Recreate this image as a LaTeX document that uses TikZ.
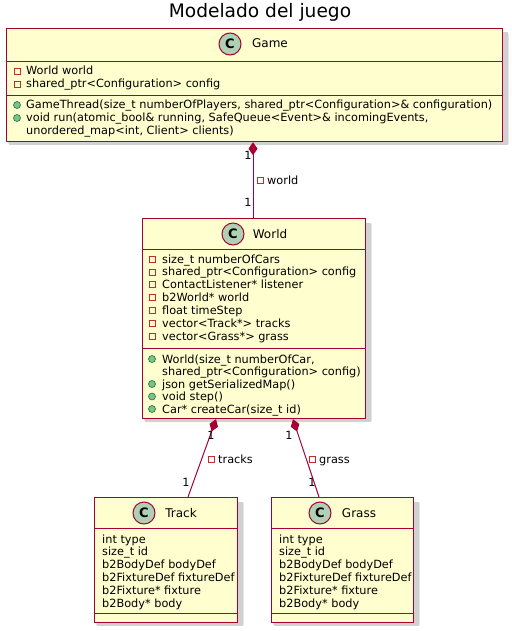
\documentclass[tikz,border=0pt]{standalone}
\usepackage{fontspec}
\setmainfont{DejaVu Sans}
\usetikzlibrary{arrows.meta,backgrounds}
\definecolor{clsfill}{HTML}{FEFECE}
\definecolor{clsline}{HTML}{A80036}
\definecolor{cfill}{HTML}{ADD1B2}
\definecolor{privc}{HTML}{C82930}
\definecolor{pubfill}{HTML}{84BE84}
\definecolor{publine}{HTML}{038048}
\tikzset{
  cls/.style={draw=clsline, fill=clsfill, line width=1.2pt, rectangle, inner sep=0pt, anchor=north west},
  sep/.style={draw=clsline, line width=0.9pt},
  cmark/.style={circle, draw=clsline, fill=cfill, line width=1pt, minimum size=22pt, inner sep=0pt, font=\fontsize{13}{13}\selectfont\bfseries},
  cname/.style={anchor=base, font=\fontsize{12}{14}\selectfont, inner sep=0pt},
  mem/.style={anchor=base west, font=\fontsize{11.3}{13}\selectfont, inner sep=0pt},
  priv/.style={rectangle, draw=privc, line width=0.8pt, minimum size=6pt, inner sep=0pt},
  pub/.style={circle, draw=publine, fill=pubfill, line width=0.6pt, minimum size=7pt, inner sep=0pt},
  mult/.style={anchor=base, font=\fontsize{11.3}{13}\selectfont, inner sep=0pt},
  conn/.style={draw=clsline, line width=1pt},
  comp/.style={conn, {Diamond[length=13pt,width=9pt,fill=clsline]}-},
}
\begin{document}
\begin{tikzpicture}[x=1pt,y=-1pt]
\useasboundingbox (0,0) rectangle (511,631);
% title
\node[anchor=base, font=\fontsize{18.6}{20}\selectfont, inner sep=0pt] (title) at (260,17.5) {Modelado del juego};

% ---------- Game ----------
\node[cls, minimum width=496pt, minimum height=113pt] (game) at (6,28) {};
\draw[sep] (6,61) -- (502,61);
\draw[sep] (6,95) -- (502,95);
\node[cmark] (gamec) at (230,44) {C};
\node[cname] (gamen) at (270,48) {Game};
\node[priv] (gp1) at (17,71) {};
\node[mem] (ga1) at (26,75) {World world};
\node[priv] (gp2) at (17,84) {};
\node[mem] (ga2) at (26,88) {shared\_ptr<Configuration> config};
\node[pub] (gm1p) at (17,105) {};
\node[mem] (gm1) at (26,109) {GameThread(size\_t numberOfPlayers, shared\_ptr<Configuration>\& configuration)};
\node[pub] (gm2p) at (17,118) {};
\node[mem] (gm2) at (26,122) {void run(atomic\_bool\& running, SafeQueue<Event>\& incomingEvents,};
\node[mem] (gm3) at (26,134.5) {unordered\_map<int, Client> clients)};

% ---------- World ----------
\node[cls, minimum width=223pt, minimum height=200pt] (world) at (142,218) {};
\draw[sep] (142,249) -- (365,249);
\draw[sep] (142,348) -- (365,348);
\node[cmark] (worldc) at (233,234) {C};
\node[cname] (worldn) at (270,238) {World};
\foreach \t [count=\i] in {size\_t numberOfCars, shared\_ptr<Configuration> config, ContactListener* listener, b2World* world, float timeStep, vector<Track*> tracks, vector<Grass*> grass}{
  \node[priv] (wp\i) at (152,{259+12.9*(\i-1)}) {};
  \node[mem] (wa\i) at (162,{263+12.9*(\i-1)}) {\t};
}
\node[pub] (wm1p) at (152,359) {};
\node[mem] (wm1) at (162,363) {World(size\_t numberOfCar,};
\node[mem] (wm1b) at (162,375.5) {shared\_ptr<Configuration> config)};
\node[pub] (wm2p) at (152,384) {};
\node[mem] (wm2) at (162,388) {json getSerializedMap()};
\node[pub] (wm3p) at (152,396.5) {};
\node[mem] (wm3) at (162,400.5) {void step()};
\node[pub] (wm4p) at (152,409) {};
\node[mem] (wm4) at (162,413) {Car* createCar(size\_t id)};

% ---------- Track ----------
\node[cls, minimum width=143pt, minimum height=125pt] (track) at (94,497) {};
\draw[sep] (94,528) -- (237,528);
\draw[sep] (94,613) -- (237,613);
\node[cmark] (trackc) at (144,513) {C};
\node[cname] (trackn) at (181,517) {Track};
\foreach \t [count=\i] in {int type, size\_t id, b2BodyDef bodyDef, b2FixtureDef fixtureDef, b2Fixture* fixture, b2Body* body}{
  \node[mem] (ta\i) at (102,{543+12.8*(\i-1)}) {\t};
}

% ---------- Grass ----------
\node[cls, minimum width=142pt, minimum height=125pt] (grass) at (271,497) {};
\draw[sep] (271,528) -- (413,528);
\draw[sep] (271,613) -- (413,613);
\node[cmark] (grassc) at (320,513) {C};
\node[cname] (grassn) at (359,517) {Grass};
\foreach \t [count=\i] in {int type, size\_t id, b2BodyDef bodyDef, b2FixtureDef fixtureDef, b2Fixture* fixture, b2Body* body}{
  \node[mem] (gr\i) at (279,{543+12.8*(\i-1)}) {\t};
}

% ---------- connectors ----------
\coordinate (gw1) at (game.south -| 253,0);
\coordinate (gw2) at (world.north -| 253,0);
\draw[comp] (gw1) -- (gw2);
\node[mult] (m1) at (248,160) {1};
\node[mult] (m2) at (248,206) {1};
\node[priv] (lw1) at (260,180) {};
\node[mem] (lw2) at (267,184) {world};

\coordinate (wt1) at (world.south -| 216,0);
\coordinate (wt2) at (track.north -| 188,0);
\draw[comp] (wt1) -- (wt2);
\node[mult] (m3) at (211,439) {1};
\node[mult] (m4) at (186,486) {1};
\node[priv] (lt1) at (211,459) {};
\node[mem] (lt2) at (218,463) {tracks};

\coordinate (wg1) at (world.south -| 293,0);
\coordinate (wg2) at (grass.north -| 319,0);
\draw[comp] (wg1) -- (wg2);
\node[mult] (m5) at (289,439) {1};
\node[mult] (m6) at (312,486) {1};
\node[priv] (lg1) at (312,459) {};
\node[mem] (lg2) at (319,463) {grass};

% ---------- shadows ----------
\begin{scope}[on background layer]
  \fill[white] (0,0) rectangle (511,631);
  \foreach \n in {game,world,track,grass}{
    \fill[black!10] ([shift={(2pt,-2pt)}]\n.south west) rectangle ([shift={(6pt,-6pt)}]\n.north east);
    \fill[black!18] ([shift={(3pt,-3pt)}]\n.south west) rectangle ([shift={(4.5pt,-4.5pt)}]\n.north east);
  }
\end{scope}
\end{tikzpicture}
\end{document}
